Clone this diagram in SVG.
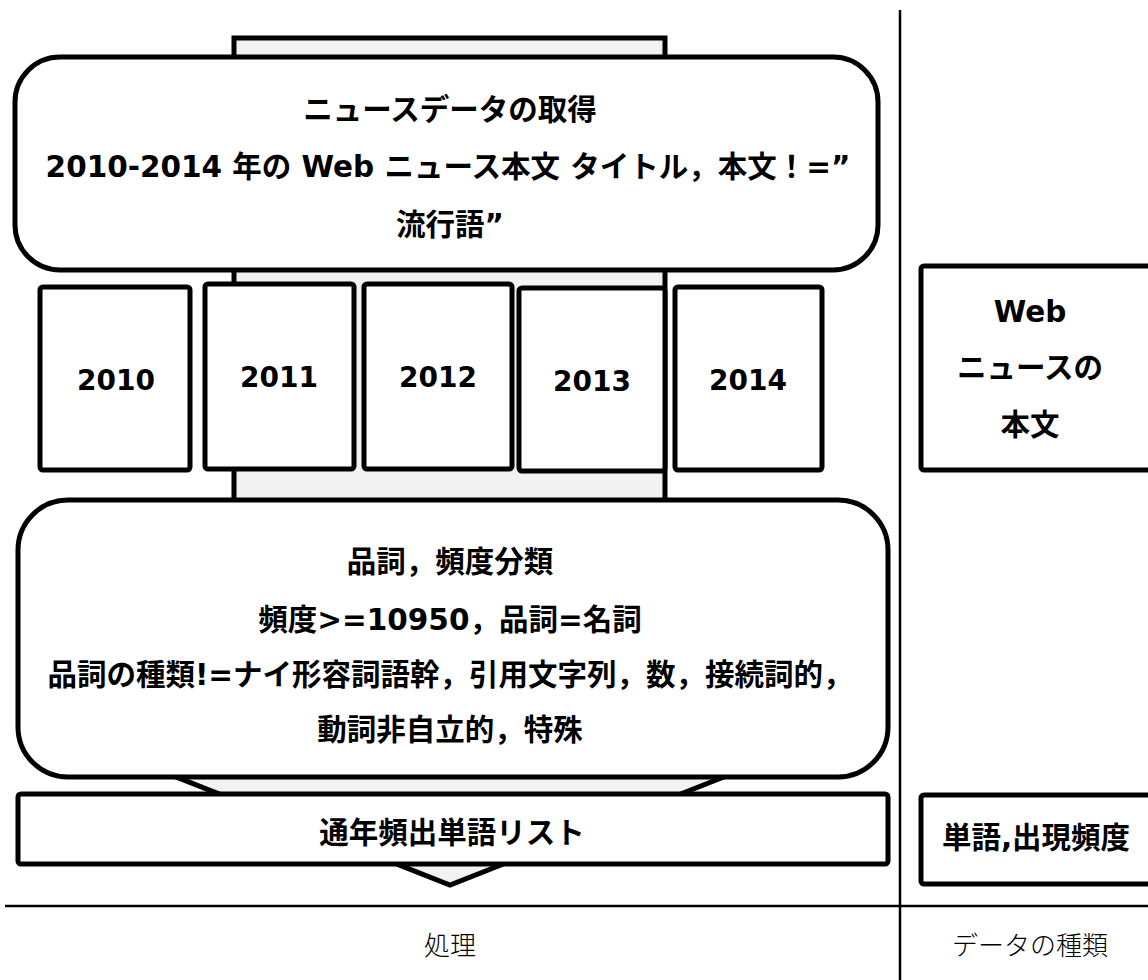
<svg xmlns="http://www.w3.org/2000/svg" width="1148" height="980" viewBox="0 0 1148 980">
<style>
.box{fill:#fff;stroke:#000;stroke-width:5;stroke-linejoin:round}
.t{font-family:"DejaVu Sans","Noto Sans CJK JP",sans-serif;font-weight:bold;font-size:29.5px;fill:#000;text-anchor:middle}
.y{font-size:28px}
.lbl{font-family:"Noto Sans CJK JP",sans-serif;font-weight:300;font-size:26px;fill:#000;text-anchor:middle}
.ln{stroke:#000;stroke-width:2.5;fill:none}
</style>
<rect width="1148" height="980" fill="#fff"/>
<g id="connectors">
<path id="flow-arrow" d="M234,38 H665 V745 H805 L450,885 L95,745 H234 Z" fill="#f2f2f2" stroke="#000" stroke-width="5" stroke-linejoin="miter"/>
</g>
<g id="n-acquire">
<rect class="box" x="15" y="57" width="863" height="213" rx="45"/>
<text class="t" x="450" y="120">ニュースデータの取得</text>
<text class="t" x="448" y="177">2010-2014 年の Web ニュース本文 タイトル，本文！=”</text>
<text class="t" x="450" y="235">流行語”</text>
</g>
<g id="n-2010"><rect class="box" x="40" y="287" width="150" height="183" rx="3"/><text class="t y" x="116" y="390">2010</text></g>
<g id="n-2011"><rect class="box" x="205" y="284" width="149" height="185" rx="3"/><text class="t y" x="279" y="387">2011</text></g>
<g id="n-2012"><rect class="box" x="364" y="284" width="148" height="185" rx="3"/><text class="t y" x="438" y="387">2012</text></g>
<g id="n-2013"><rect class="box" x="519" y="288" width="146" height="183" rx="3"/><text class="t y" x="592" y="391">2013</text></g>
<g id="n-2014"><rect class="box" x="675" y="287" width="147" height="183" rx="3"/><text class="t y" x="748" y="390">2014</text></g>
<g id="n-classify">
<rect class="box" x="18" y="500" width="870" height="277" rx="50"/>
<text class="t" x="450" y="572">品詞，頻度分類</text>
<text class="t" x="450" y="630">頻度&gt;=10950，品詞=名詞</text>
<text class="t" x="450" y="685">品詞の種類!=ナイ形容詞語幹，引用文字列，数，接続詞的，</text>
<text class="t" x="450" y="740">動詞非自立的，特殊</text>
</g>
<g id="n-list">
<rect class="box" x="18" y="794" width="870" height="70" rx="3"/>
<text class="t" x="452" y="843">通年頻出単語リスト</text>
</g>
<g id="d-web">
<rect class="box" x="921" y="266" width="240" height="204" rx="3"/>
<text class="t" x="1030" y="322">Web</text>
<text class="t" x="1030" y="378">ニュースの</text>
<text class="t" x="1030" y="435">本文</text>
</g>
<g id="d-words">
<rect class="box" x="921" y="795" width="240" height="89" rx="3"/>
<text class="t" x="1036" y="848">単語,出現頻度</text>
</g>
<g id="frame">
<line class="ln" x1="900" y1="10" x2="900" y2="980"/>
<line class="ln" x1="5" y1="906" x2="1148" y2="906"/>
<text class="lbl" x="450" y="955">処理</text>
<text class="lbl" x="1030" y="955">データの種類</text>
</g>
</svg>
